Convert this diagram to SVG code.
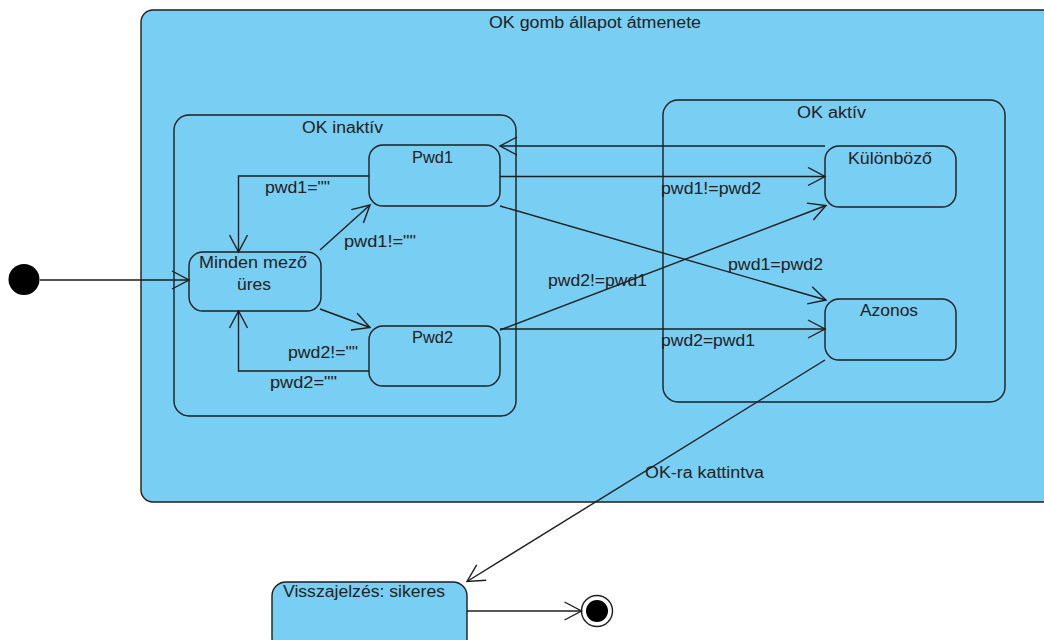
<svg xmlns="http://www.w3.org/2000/svg" width="1044" height="640" viewBox="0 0 1044 640">
<style>
.st{fill:#79CEF4;stroke:#1e1e1e;stroke-width:1.4}
.ln{fill:none;stroke:#1e1e1e;stroke-width:1.4}
text{font-family:"Liberation Sans",Arial,sans-serif;font-size:16px;fill:#222}
</style>
<defs>
<marker id="arr" viewBox="0 0 20 20" refX="18" refY="10" markerWidth="20" markerHeight="20" markerUnits="userSpaceOnUse" orient="auto">
<path d="M1,1 L18,10 L1,19" fill="none" stroke="#1e1e1e" stroke-width="1.4"/>
</marker>
</defs>
<rect width="1044" height="640" fill="#ffffff"/>
<g id="outer">
<rect class="st" x="141" y="10" width="930" height="492" rx="12"/>
<text x="489" y="28" textLength="212" lengthAdjust="spacingAndGlyphs">OK gomb állapot átmenete</text>
</g>
<g id="ok-inaktiv">
<rect class="st" x="174" y="115" width="342" height="301" rx="15"/>
<text x="302" y="133" textLength="81" lengthAdjust="spacingAndGlyphs">OK inaktív</text>
</g>
<g id="ok-aktiv">
<rect class="st" x="663" y="100" width="342" height="302" rx="15"/>
<text x="797" y="118" textLength="69" lengthAdjust="spacingAndGlyphs">OK aktív</text>
</g>
<g id="pwd1">
<rect class="st" x="369" y="145" width="131" height="61" rx="14"/>
<text x="412" y="163" textLength="41" lengthAdjust="spacingAndGlyphs">Pwd1</text>
</g>
<g id="minden">
<rect class="st" x="189" y="252" width="132" height="59" rx="14"/>
<text x="199" y="268" textLength="108" lengthAdjust="spacingAndGlyphs">Minden mező</text>
<text x="237" y="290" textLength="34" lengthAdjust="spacingAndGlyphs">üres</text>
</g>
<g id="pwd2">
<rect class="st" x="369" y="326" width="131" height="60" rx="14"/>
<text x="412" y="343" textLength="41" lengthAdjust="spacingAndGlyphs">Pwd2</text>
</g>
<g id="kulonbozo">
<rect class="st" x="825" y="146" width="131" height="61" rx="14"/>
<text x="848" y="164" textLength="84" lengthAdjust="spacingAndGlyphs">Különböző</text>
</g>
<g id="azonos">
<rect class="st" x="825" y="299" width="131" height="61" rx="14"/>
<text x="860" y="316" textLength="58" lengthAdjust="spacingAndGlyphs">Azonos</text>
</g>
<g id="visszajelzes">
<rect class="st" x="272" y="582" width="195" height="70" rx="14"/>
<text x="283" y="597" textLength="162" lengthAdjust="spacingAndGlyphs">Visszajelzés: sikeres</text>
</g>
<g id="initial">
<circle cx="24" cy="279.5" r="15.5" fill="#000"/>
</g>
<g id="final">
<circle cx="597" cy="611" r="15.5" fill="#fff" stroke="#1e1e1e" stroke-width="1.4"/>
<circle cx="597" cy="611" r="11" fill="#000"/>
</g>
<g id="connectors">
<line class="ln" x1="40" y1="280" x2="189" y2="280" marker-end="url(#arr)"/>
<polyline class="ln" points="369,176 238.5,176 238.5,252" marker-end="url(#arr)"/>
<line class="ln" x1="320" y1="250" x2="370" y2="205" marker-end="url(#arr)"/>
<line class="ln" x1="320" y1="309" x2="370" y2="327.5" marker-end="url(#arr)"/>
<polyline class="ln" points="369,371 238.5,371 238.5,311" marker-end="url(#arr)"/>
<line class="ln" x1="500" y1="176.5" x2="825" y2="176.5" marker-end="url(#arr)"/>
<line class="ln" x1="825" y1="146" x2="500" y2="146" marker-end="url(#arr)"/>
<line class="ln" x1="500" y1="206" x2="826" y2="300" marker-end="url(#arr)"/>
<line class="ln" x1="500" y1="330" x2="826" y2="205.5" marker-end="url(#arr)"/>
<line class="ln" x1="500" y1="329" x2="825" y2="329" marker-end="url(#arr)"/>
<line class="ln" x1="825" y1="360" x2="467" y2="581.5" marker-end="url(#arr)"/>
<line class="ln" x1="467" y1="611" x2="581.5" y2="611" marker-end="url(#arr)"/>
<text x="265" y="193" textLength="65" lengthAdjust="spacingAndGlyphs">pwd1=""</text>
<text x="344" y="247" textLength="72" lengthAdjust="spacingAndGlyphs">pwd1!=""</text>
<text x="288" y="358" textLength="70" lengthAdjust="spacingAndGlyphs">pwd2!=""</text>
<text x="270" y="388" textLength="67" lengthAdjust="spacingAndGlyphs">pwd2=""</text>
<text x="661" y="194" textLength="100" lengthAdjust="spacingAndGlyphs">pwd1!=pwd2</text>
<text x="728" y="270" textLength="95" lengthAdjust="spacingAndGlyphs">pwd1=pwd2</text>
<text x="548" y="286" textLength="99" lengthAdjust="spacingAndGlyphs">pwd2!=pwd1</text>
<text x="661" y="346" textLength="94" lengthAdjust="spacingAndGlyphs">pwd2=pwd1</text>
<text x="645" y="478" textLength="119" lengthAdjust="spacingAndGlyphs">OK-ra kattintva</text>
</g>
</svg>
